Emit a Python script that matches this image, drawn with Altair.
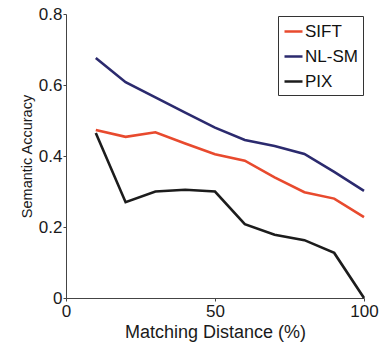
import altair as alt
import pandas as pd

distance = [10, 20, 30, 40, 50, 60, 70, 80, 90, 100]
sift = [0.473, 0.454, 0.467, 0.435, 0.405, 0.387, 0.34, 0.298, 0.28, 0.228]
nlsm = [0.676, 0.608, 0.565, 0.522, 0.48, 0.445, 0.428, 0.406, 0.355, 0.302]
pix = [0.465, 0.27, 0.30, 0.305, 0.30, 0.208, 0.178, 0.163, 0.127, 0.0]

series = ["SIFT", "NL-SM", "PIX"]
colors = ["#e84a2e", "#2b2a6e", "#1c1c1c"]

rows = []
for name, vals in zip(series, [sift, nlsm, pix]):
    for d, v in zip(distance, vals):
        rows.append({"distance": d, "accuracy": v, "method": name})
df = pd.DataFrame(rows)

FONT = "Liberation Sans"

chart = alt.Chart(df).mark_line(strokeWidth=2.6).encode(
    x=alt.X("distance:Q", scale=alt.Scale(domain=[0, 100], nice=False),
            axis=alt.Axis(values=[0, 50, 100], title="Matching Distance (%)",
                          grid=False, tickSize=3, labelFontSize=17, labelColor="#1a1a1a",
                          titleFontSize=18, titleFontWeight="normal", titleColor="#1a1a1a",
                          labelPadding=2, titlePadding=4, domainColor="#444",
                          tickColor="#444", labelFont=FONT, titleFont=FONT,
                          labelFlush=False)),
    y=alt.Y("accuracy:Q", scale=alt.Scale(domain=[0, 0.8], nice=False),
            axis=alt.Axis(values=[0, 0.2, 0.4, 0.6, 0.8], title="Semantic Accuracy",
                          labelExpr="datum.value == 0 ? '0' : format(datum.value, '.1f')",
                          grid=False, tickSize=3, labelFontSize=17, labelColor="#1a1a1a",
                          titleFontSize=14.5, titleFontWeight="normal", titleColor="#1a1a1a",
                          labelPadding=1, titlePadding=4, domainColor="#444",
                          tickColor="#444", labelFont=FONT, titleFont=FONT,
                          labelFlush=False)),
    color=alt.Color("method:N", scale=alt.Scale(domain=series, range=colors),
                    legend=alt.Legend(title=None, orient="none", legendX=212, legendY=2,
                                      symbolType="stroke", symbolSize=324,
                                      symbolStrokeWidth=2.5, labelFontSize=17,
                                      labelFont=FONT, labelColor="#111",
                                      fillColor="white", strokeColor="#333",
                                      padding=5, rowPadding=6, labelOffset=1,
                                      offset=0)),
).properties(
    width=298, height=284,
    autosize=alt.AutoSizeParams(type="none"),
    padding={"left": 66, "top": 14, "right": 16, "bottom": 47},
).configure_view(stroke=None)

chart.save("out.html", embed_options={"renderer": "svg", "actions": False})
